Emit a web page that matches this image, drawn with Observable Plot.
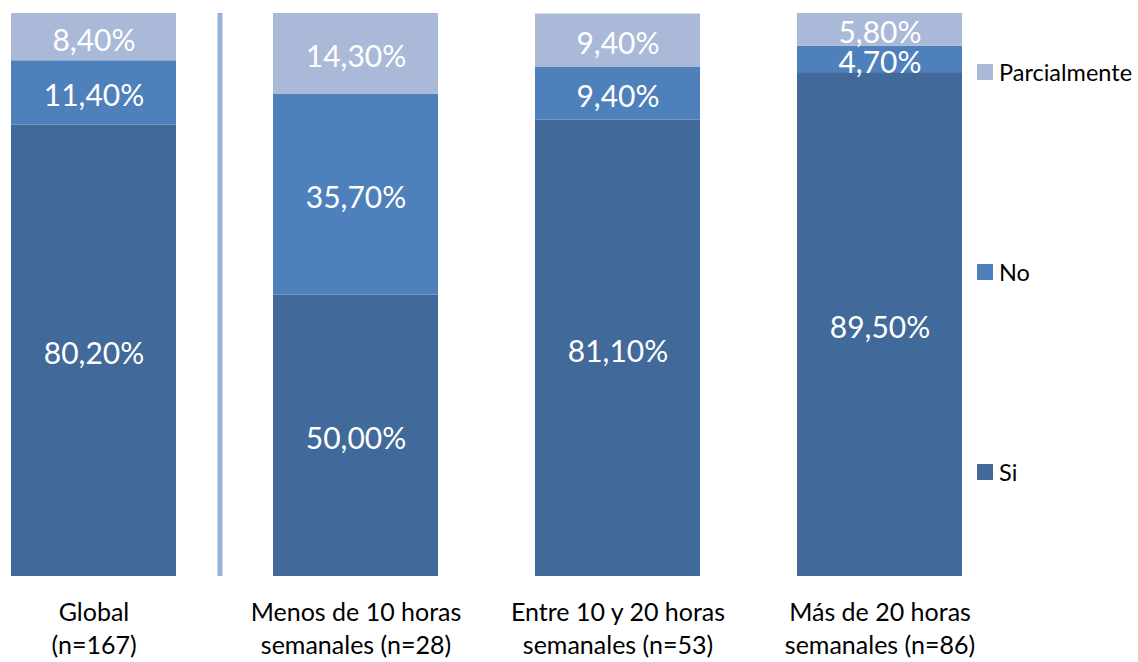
<!DOCTYPE html>
<html>
<head>
<meta charset="utf-8">
<script src="https://cdn.jsdelivr.net/npm/d3@7"></script>
<script src="https://cdn.jsdelivr.net/npm/@observablehq/plot@0.6"></script>
<style>
  html, body { margin: 0; padding: 0; background: #fff; }
  #wrap { position: relative; width: 1138px; height: 662px; font-family: Lato, "Open Sans", sans-serif; }
  #legend { position: absolute; left: 977px; top: 59px; }
  .item { display: flex; align-items: center; height: 26px; margin-bottom: 174px; font-size: 23.5px; color: #000; }
  .sw { width: 16px; height: 16px; margin-right: 6px; }
</style>
</head>
<body>
<div id="wrap"></div>
<script>
const categories = ["Global", "Menos de 10 horas", "Entre 10 y 20 horas", "Más de 20 horas"];
const tickLabels = ["Global\n(n=167)", "Menos de 10 horas\nsemanales (n=28)", "Entre 10 y 20 horas\nsemanales (n=53)", "Más de 20 horas\nsemanales (n=86)"];
const series = ["Si", "No", "Parcialmente"];
const siValues = [80.2, 50.0, 81.1, 89.5];
const noValues = [11.4, 35.7, 9.4, 4.7];
const parcialValues = [8.4, 14.3, 9.4, 5.8];
const colors = ["#416A9A", "#4E80BC", "#A9B9D7"];
const separatorColor = "#95B3D7";

const valuesBySeries = [siValues, noValues, parcialValues];
const data = [];
series.forEach((s, si) => categories.forEach((c, ci) => data.push({category: c, series: s, value: valuesBySeries[si][ci]})));

const fmt = v => v.toFixed(2).replace(".", ",") + "%";
const labelOf = Object.fromEntries(categories.map((c, i) => [c, tickLabels[i]]));

const W = 1138, H = 662, mL = 10, mR = 176, pad = 0.3714;
const step = (W - mL - mR) / (categories.length - pad);

const chart = Plot.plot({
  width: W,
  height: H,
  marginTop: 13,
  marginBottom: 86,
  marginLeft: mL,
  marginRight: mR,
  style: {fontFamily: "Lato, 'Open Sans', sans-serif", background: "#fff", overflow: "visible"},
  x: {domain: categories, paddingInner: pad, paddingOuter: 0, label: null},
  y: {domain: [0, 100], axis: null},
  color: {domain: series, range: colors},
  marks: [
    Plot.ruleX([categories[0]], {x: d => d, y1: 0, y2: 100, stroke: separatorColor, strokeWidth: 5, dx: step * 0.48}),
    Plot.barY(data, {x: "category", y: "value", fill: "series", order: series}),
    Plot.text(data, Plot.stackY({x: "category", y: "value", z: "series", order: series, text: d => fmt(d.value), fill: "white", fontSize: 30, dy: 4})),
    Plot.axisX({tickSize: 0, tickPadding: 21, fontSize: 25, lineHeight: 1.32, tickFormat: c => labelOf[c], fill: "#000", label: null})
  ]
});
document.getElementById("wrap").appendChild(chart);

const legend = document.createElement("div");
legend.id = "legend";
[...series].reverse().forEach((s) => {
  const item = document.createElement("div");
  item.className = "item";
  const sw = document.createElement("div");
  sw.className = "sw";
  sw.style.background = colors[series.indexOf(s)];
  const t = document.createElement("span");
  t.textContent = s;
  item.appendChild(sw);
  item.appendChild(t);
  legend.appendChild(item);
});
document.getElementById("wrap").appendChild(legend);
</script>
</body>
</html>
